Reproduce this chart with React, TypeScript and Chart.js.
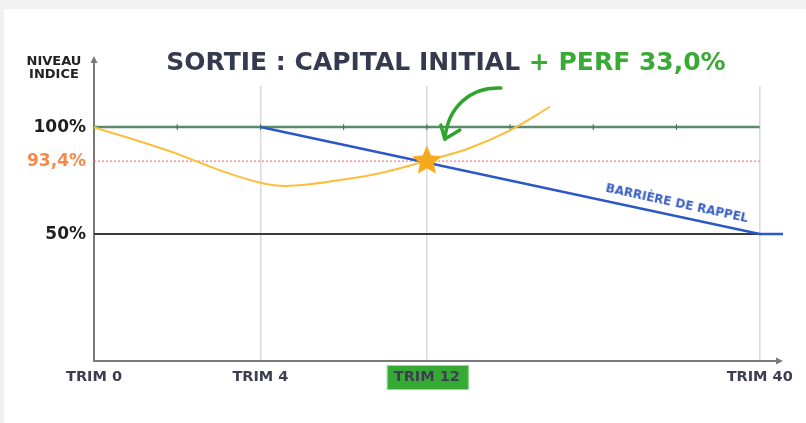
import React, { useEffect, useRef } from "react";
import { Chart, registerables } from "chart.js";
Chart.register(...registerables);

// Schematic horizontal slots (0..8); labelled slots below
const xTickValues = [0, 2, 4, 8];
const xTickLabels = ["TRIM 0", "TRIM 4", "TRIM 12", "TRIM 40"];
const highlightedTick = 4;

// Schematic vertical levels and their printed labels
const yTickValues = [50, 84.1, 100];
const yTickLabels = ["50%", "93,4%", "100%"];
const yTickColors = ["#1f1f1f", "#f4894b", "#1f1f1f"];

// Underlying index path (yellow)
const indexX = [0, 1, 1.5, 2, 2.3, 3, 3.5, 4, 4.5, 5, 5.48];
const indexY = [100, 87.5, 80, 74, 72.5, 75.5, 79, 84.3, 90, 98.5, 109.5];

// Recall barrier (blue)
const barrierX = [2, 8, 8.28];
const barrierY = [100, 50, 50];

// Initial capital level (100%)
const capitalX = [0, 1, 2, 3, 4, 5, 6, 7, 8];
const capitalY = [100, 100, 100, 100, 100, 100, 100, 100, 100];

// 50% level
const lowerX = [0, 8];
const lowerY = [50, 50];

// 93,4% observed level (dotted)
const exitLevelX = [0, 8];
const exitLevelY = [84.1, 84.1];

// Exit point (star)
const exitPointX = [4];
const exitPointY = [84.1];

const xMin = 0;
const xMax = 8.28;
const yMin = -9.3;
const yMax = 119.2;

const toPoints = (xs: number[], ys: number[]) => xs.map((x, i) => ({ x, y: ys[i] }));

function makeStar(): HTMLCanvasElement {
  const c = document.createElement("canvas");
  c.width = 34;
  c.height = 34;
  const g = c.getContext("2d")!;
  const cx = 17, cy = 17, R = 15.5, r = 7.2;
  g.beginPath();
  for (let i = 0; i < 10; i++) {
    const rad = i % 2 === 0 ? R : r;
    const a = -Math.PI / 2 + (i * Math.PI) / 5;
    const px = cx + rad * Math.cos(a);
    const py = cy + rad * Math.sin(a);
    if (i === 0) g.moveTo(px, py);
    else g.lineTo(px, py);
  }
  g.closePath();
  g.fillStyle = "#f6a91c";
  g.fill();
  return c;
}

const decorPlugin = {
  id: "decor",
  beforeDraw(chart: any) {
    const { ctx, chartArea, scales } = chart;
    const x = scales.x;
    const px = x.getPixelForValue(highlightedTick) + 1;
    ctx.save();
    ctx.fillStyle = "#36a935";
    ctx.strokeStyle = "#9ad99a";
    ctx.lineWidth = 1;
    ctx.fillRect(px - 41, chartArea.bottom + 4, 82, 25);
    ctx.strokeRect(px - 41 + 0.5, chartArea.bottom + 4.5, 81, 24);
    ctx.restore();
  },
  beforeDatasetsDraw(chart: any) {
    const { ctx, chartArea } = chart;
    const { left, right, top, bottom } = chartArea;
    ctx.save();
    ctx.strokeStyle = "#7a7a7a";
    ctx.fillStyle = "#7a7a7a";
    ctx.lineWidth = 2;
    // y axis
    ctx.beginPath();
    ctx.moveTo(left, bottom + 1);
    ctx.lineTo(left, top - 25);
    ctx.stroke();
    ctx.beginPath();
    ctx.moveTo(left, top - 30);
    ctx.lineTo(left - 3.5, top - 23);
    ctx.lineTo(left + 3.5, top - 23);
    ctx.closePath();
    ctx.fill();
    // x axis
    ctx.beginPath();
    ctx.moveTo(left - 1, bottom);
    ctx.lineTo(right - 5, bottom);
    ctx.stroke();
    ctx.beginPath();
    ctx.moveTo(right, bottom);
    ctx.lineTo(right - 7, bottom - 3.5);
    ctx.lineTo(right - 7, bottom + 3.5);
    ctx.closePath();
    ctx.fill();
    ctx.restore();
  },
  afterDraw(chart: any) {
    const { ctx, scales } = chart;
    const sx = scales.x.getPixelForValue(exitPointX[0]);
    const sy = scales.y.getPixelForValue(exitPointY[0]);
    ctx.save();
    ctx.strokeStyle = "#2fa52f";
    ctx.lineWidth = 3.5;
    ctx.lineCap = "round";
    ctx.lineJoin = "round";
    ctx.beginPath();
    ctx.moveTo(sx + 74, sy - 73);
    ctx.bezierCurveTo(sx + 44, sy - 74, sx + 21, sy - 55, sx + 18, sy - 22);
    ctx.stroke();
    ctx.beginPath();
    ctx.moveTo(sx + 14, sy - 36);
    ctx.lineTo(sx + 18, sy - 22);
    ctx.lineTo(sx + 33, sy - 31);
    ctx.stroke();
    ctx.restore();
  },
};

export default function App() {
  const ref = useRef<HTMLCanvasElement | null>(null);

  useEffect(() => {
    if (!ref.current) return;
    const star = makeStar();
    const chart = new Chart(ref.current, {
      type: "line",
      data: {
        datasets: [
          {
            data: toPoints(exitPointX, exitPointY),
            showLine: false,
            pointStyle: star as any,
            pointRadius: 15,
            order: 0,
          },
          {
            data: toPoints(barrierX, barrierY),
            borderColor: "#2b57c8",
            borderWidth: 2.5,
            pointRadius: 0,
            tension: 0,
            order: 1,
          },
          {
            data: toPoints(indexX, indexY),
            borderColor: "#fbbd3a",
            borderWidth: 2,
            pointRadius: 0,
            cubicInterpolationMode: "monotone",
            order: 2,
          },
          {
            data: toPoints(exitLevelX, exitLevelY),
            borderColor: "#ff7575",
            borderWidth: 1.2,
            borderDash: [2, 2],
            pointRadius: 0,
            order: 3,
          },
          {
            data: toPoints(capitalX, capitalY),
            borderColor: "#5a8a69",
            borderWidth: 2.5,
            pointStyle: "line",
            pointRotation: 90,
            pointRadius: capitalX.map((_, i) => (i === 0 || i === capitalX.length - 1 ? 0 : 3)),
            pointBorderColor: "#476b53",
            pointBorderWidth: 1,
            order: 4,
          },
          {
            data: toPoints(lowerX, lowerY),
            borderColor: "#3a3a3a",
            borderWidth: 2,
            pointRadius: 0,
            order: 5,
          },
        ],
      },
      options: {
        animation: false,
        responsive: false,
        events: [],
        layout: { padding: { left: 0, top: 86, right: 23, bottom: 0 } },
        plugins: {
          legend: { display: false },
          tooltip: { enabled: false },
          title: { display: false },
        },
        scales: {
          x: {
            type: "linear",
            min: xMin,
            max: xMax,
            border: { display: false },
            afterBuildTicks: (scale: any) => {
              scale.ticks = xTickValues.map((v) => ({ value: v }));
            },
            afterFit: (scale: any) => {
              scale.height = 62;
            },
            grid: {
              drawTicks: false,
              lineWidth: 1.5,
              color: (c: any) => (c.tick && c.tick.value === 0 ? "rgba(0,0,0,0)" : "#dadada"),
            },
            ticks: {
              padding: 8,
              autoSkip: false,
              maxRotation: 0,
              color: "#3b3f51",
              font: { family: "DejaVu Sans", weight: "bold", size: 14.5 },
              callback: (_v: any, i: number) => xTickLabels[i],
            },
          },
          y: {
            type: "linear",
            min: yMin,
            max: yMax,
            border: { display: false },
            afterBuildTicks: (scale: any) => {
              scale.ticks = yTickValues.map((v) => ({ value: v }));
            },
            afterFit: (scale: any) => {
              scale.width = 94;
            },
            grid: { display: false, drawTicks: false },
            ticks: {
              padding: 8,
              autoSkip: false,
              color: (c: any) => yTickColors[c.index] || "#1f1f1f",
              font: { family: "DejaVu Sans", weight: "bold", size: 17 },
              callback: (_v: any, i: number) => yTickLabels[i],
            },
          },
        },
      },
      plugins: [decorPlugin],
    } as any);
    return () => chart.destroy();
  }, []);

  return (
    <div style={{ position: "fixed", left: 0, top: 0, width: 806, height: 423, background: "#f1f1f1", overflow: "hidden" }}>
      <div style={{ position: "absolute", left: 4, top: 9, right: 0, bottom: 0, background: "#ffffff" }} />
      <canvas ref={ref} width={806} height={423} style={{ position: "absolute", left: 0, top: 0, width: 806, height: 423 }} />
      <div
        style={{
          position: "absolute",
          left: 46,
          top: 49,
          width: 800,
          textAlign: "center",
          fontFamily: "DejaVu Sans",
          fontWeight: "bold",
          fontSize: 25,
          lineHeight: "25px",
          whiteSpace: "nowrap",
          color: "#353a4e",
        }}
      >
        SORTIE : CAPITAL INITIAL <span style={{ color: "#3aa935" }}>+ PERF 33,0%</span>
      </div>
      <div
        style={{
          position: "absolute",
          left: 4,
          top: 53.5,
          width: 100,
          textAlign: "center",
          fontFamily: "DejaVu Sans",
          fontWeight: "bold",
          fontSize: 13,
          lineHeight: "13px",
          color: "#222222",
        }}
      >
        NIVEAU
        <br />
        INDICE
      </div>
      <div
        style={{
          position: "absolute",
          left: 577,
          top: 196,
          width: 200,
          textAlign: "center",
          fontFamily: "DejaVu Sans",
          fontWeight: "bold",
          fontSize: 12,
          lineHeight: "14px",
          whiteSpace: "nowrap",
          color: "#3a60c4",
          transform: "rotate(12.2deg)",
          transformOrigin: "50% 50%",
        }}
      >
        BARRIÈRE DE RAPPEL
      </div>
    </div>
  );
}
